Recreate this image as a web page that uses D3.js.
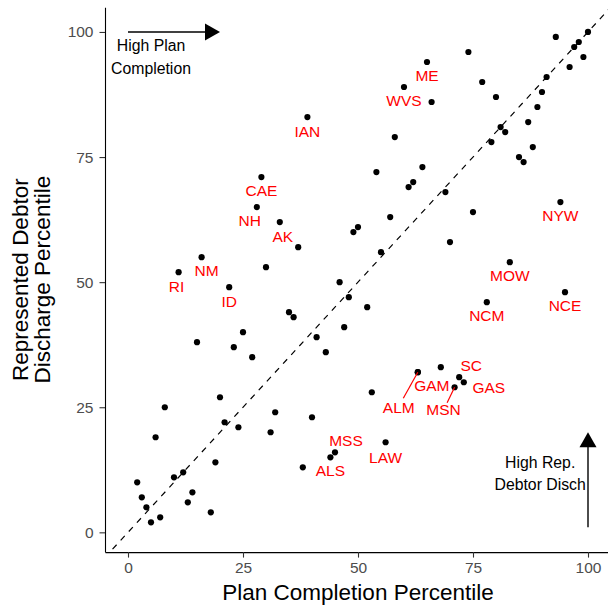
<!DOCTYPE html>
<html>
<head>
<meta charset="utf-8">
<script src="https://cdn.jsdelivr.net/npm/d3@7"></script>
<style>
  body { margin: 0; background: white; }
  text { font-family: "Liberation Sans", Arial, Helvetica, sans-serif; }
</style>
</head>
<body>
<main></main>
<script>
/*** Data ***/

// x = plan completion percentile, y = represented debtor discharge percentile
let planPct = [39, 29, 65, 60, 66, 74, 77, 80, 93, 97, 98, 100, 96, 99, 91, 90, 89, 81, 82, 87,
    79, 85, 86, 88, 58, 54, 64, 62, 61, 69, 28, 33, 37, 16, 11, 22, 30, 49, 50, 46,
    48, 35, 36, 47, 25, 41, 15, 23, 94, 75, 57, 70, 55, 83, 95, 78, 52, 27, 43, 20,
    8, 6, 21, 24, 32, 31, 40, 19, 12, 10, 2, 3, 14, 13, 4, 7, 5, 18, 38, 44,
    45, 53, 63, 63, 68, 72, 73, 71, 56]

let dischPct = [83, 71, 94, 89, 86, 96, 90, 87, 99, 97, 98, 100, 93, 95, 91, 88, 85, 81, 80, 82,
    78, 75, 74, 77, 79, 72, 73, 70, 69, 68, 65, 62, 57, 55, 52, 49, 53, 60, 61, 50,
    47, 44, 43, 41, 40, 39, 38, 37, 66, 64, 63, 58, 56, 54, 48, 46, 45, 35, 36, 27,
    25, 19, 22, 21, 24, 20, 23, 14, 12, 11, 10, 7, 8, 6, 5, 3, 2, 4, 13, 15,
    16, 28, 32, 32, 33, 31, 30, 29, 18]

let district = ["IAN", "CAE", "ME", "WVS", "", "", "", "", "", "", "", "", "", "", "", "", "", "", "", "",
    "", "", "", "", "", "", "", "", "", "", "NH", "AK", "", "NM", "RI", "ID", "", "", "", "",
    "", "", "", "", "", "", "", "", "NYW", "", "", "", "", "MOW", "NCE", "NCM", "", "", "", "",
    "", "", "", "", "", "", "", "", "", "", "", "", "", "", "", "", "", "", "", "ALS",
    "MSS", "", "ALM", "GAM", "", "SC", "GAS", "MSN", "LAW"]

let xTicks = [0, 25, 50, 75, 100]
let yTicks = [0, 25, 50, 75, 100]

/*** Layout ***/

const svgWidth = 608
const svgHeight = 610

// where each red label sits relative to its point (px), and leader lines
const labelNudge = {
    IAN: [0, 14], CAE: [0, 13], ME: [0, 13], WVS: [0, 13], NH: [-7, 13], AK: [3, 14],
    NM: [5, 13], RI: [-2, 14], ID: [0, 14], NYW: [0, 13], MOW: [0, 13], NCE: [0, 13],
    NCM: [0, 13], MSS: [11, -12], ALS: [0, 13], LAW: [0, 15], SC: [12, -12], GAS: [25, 5],
    GAM: [14, 13], ALM: [-19, 35], MSN: [-11, 22]
}
const leaderEnd = { ALM: [-14.5, 26], MSN: [-7.5, 15.5] }

let svg = d3.select("main")
    .append("svg")
    .attr("width", svgWidth)
    .attr("height", svgHeight)
    .style("background-color", "white")

/* Scales */
let xScale = d3.scaleLinear()
    .domain([-5, 105])
    .range([105, 611])

let yScale = d3.scaleLinear()
    .domain([-3.95, 104.95])
    .range([552.1, 7.2])

/* y = x reference line */
svg.append("line")
    .attr("x1", xScale(-3.95))
    .attr("y1", yScale(-3.95))
    .attr("x2", xScale(105))
    .attr("y2", yScale(105))
    .attr("stroke", "black")
    .attr("stroke-width", 1.2)
    .attr("stroke-dasharray", "6,6")
    .attr("stroke-dashoffset", -4)

/* Axes */
let xAxis = svg.append("g")
    .attr("transform", `translate(0, ${yScale(-3.95)})`)
    .call(d3.axisBottom(xScale).tickValues(xTicks).tickSize(5.5).tickSizeOuter(0).tickPadding(4))

let yAxis = svg.append("g")
    .attr("transform", `translate(${xScale(-5)}, 0)`)
    .call(d3.axisLeft(yScale).tickValues(yTicks).tickSize(5.5).tickSizeOuter(0).tickPadding(6))

for (let ax of [xAxis, yAxis]) {
    ax.select(".domain")
        .attr("stroke", "black")
        .attr("stroke-width", 1.1)
    ax.selectAll(".tick line")
        .attr("stroke", "#333333")
        .attr("stroke-width", 1.1)
    ax.selectAll(".tick text")
        .attr("fill", "#4D4D4D")
        .style("font-size", "15.5px")
        .style("font-family", "'Liberation Sans', Arial, sans-serif")
}

/* Points */
let pts = planPct.map((d, i) => ({x: d, y: dischPct[i], name: district[i]}))

svg.append("g")
    .selectAll("circle")
    .data(pts)
    .enter()
    .append("circle")
    .attr("cx", (d) => xScale(d.x))
    .attr("cy", (d) => yScale(d.y))
    .attr("r", 3.1)
    .attr("fill", "black")

/* Red district labels */
let labelled = pts.filter((d) => d.name !== "")

svg.append("g")
    .selectAll("line")
    .data(labelled.filter((d) => leaderEnd[d.name]))
    .enter()
    .append("line")
    .attr("x1", (d) => xScale(d.x))
    .attr("y1", (d) => yScale(d.y))
    .attr("x2", (d) => xScale(d.x) + leaderEnd[d.name][0])
    .attr("y2", (d) => yScale(d.y) + leaderEnd[d.name][1])
    .attr("stroke", "red")
    .attr("stroke-width", 1.2)

svg.append("g")
    .selectAll("text")
    .data(labelled)
    .enter()
    .append("text")
    .attr("x", (d) => xScale(d.x) + labelNudge[d.name][0])
    .attr("y", (d) => yScale(d.y) + labelNudge[d.name][1])
    .attr("dy", "0.36em")
    .style("text-anchor", "middle")
    .style("font-size", "15.5px")
    .attr("fill", "red")
    .text((d) => d.name)

/* Direction arrows and notes */
let arrowHead = (x, y, dir) => {
    // dir: "right" or "up", tip at (x, y)
    let pts = dir === "right"
        ? [[x, y], [x - 15, y - 8.5], [x - 15, y + 8.5]]
        : [[x, y], [x - 8.5, y + 15], [x + 8.5, y + 15]]
    svg.append("path")
        .attr("d", "M" + pts.join("L") + "Z")
        .attr("fill", "black")
}

svg.append("line")
    .attr("x1", xScale(0))
    .attr("y1", yScale(100))
    .attr("x2", xScale(20) - 10)
    .attr("y2", yScale(100))
    .attr("stroke", "black")
    .attr("stroke-width", 1.4)
arrowHead(xScale(20), yScale(100), "right")

svg.append("line")
    .attr("x1", xScale(100))
    .attr("y1", yScale(1))
    .attr("x2", xScale(100))
    .attr("y2", yScale(20) + 10)
    .attr("stroke", "black")
    .attr("stroke-width", 1.4)
arrowHead(xScale(100), yScale(20), "up")

let note = (lines, cx, cy) => {
    lines.forEach((t, i) => {
        svg.append("text")
            .attr("x", cx)
            .attr("y", cy + (i - (lines.length - 1) / 2) * 22.5)
            .attr("dy", "0.36em")
            .style("text-anchor", "middle")
            .style("font-size", "15.8px")
            .attr("fill", "black")
            .text(t)
    })
}
note(["High Plan", "Completion"], xScale(5), yScale(95))
note(["High Rep.", "Debtor Disch"], xScale(89.6), yScale(11.8))

/* Axis titles */
svg.append("text")
    .attr("x", (xScale(-5) + xScale(105)) / 2)
    .attr("y", 600)
    .style("text-anchor", "middle")
    .style("font-size", "22.5px")
    .attr("fill", "black")
    .text("Plan Completion Percentile")

let panelMidY = (yScale(-3.95) + yScale(104.95)) / 2
let yTitle = svg.append("g")
    .attr("transform", `translate(0, ${panelMidY}) rotate(-90)`)

yTitle.append("text")
    .attr("x", 0)
    .attr("y", 28)
    .style("text-anchor", "middle")
    .style("font-size", "22.5px")
    .attr("fill", "black")
    .text("Represented Debtor")

yTitle.append("text")
    .attr("x", 0)
    .attr("y", 50)
    .style("text-anchor", "middle")
    .style("font-size", "22.5px")
    .attr("fill", "black")
    .text("Discharge Percentile")
</script>
</body>
</html>
